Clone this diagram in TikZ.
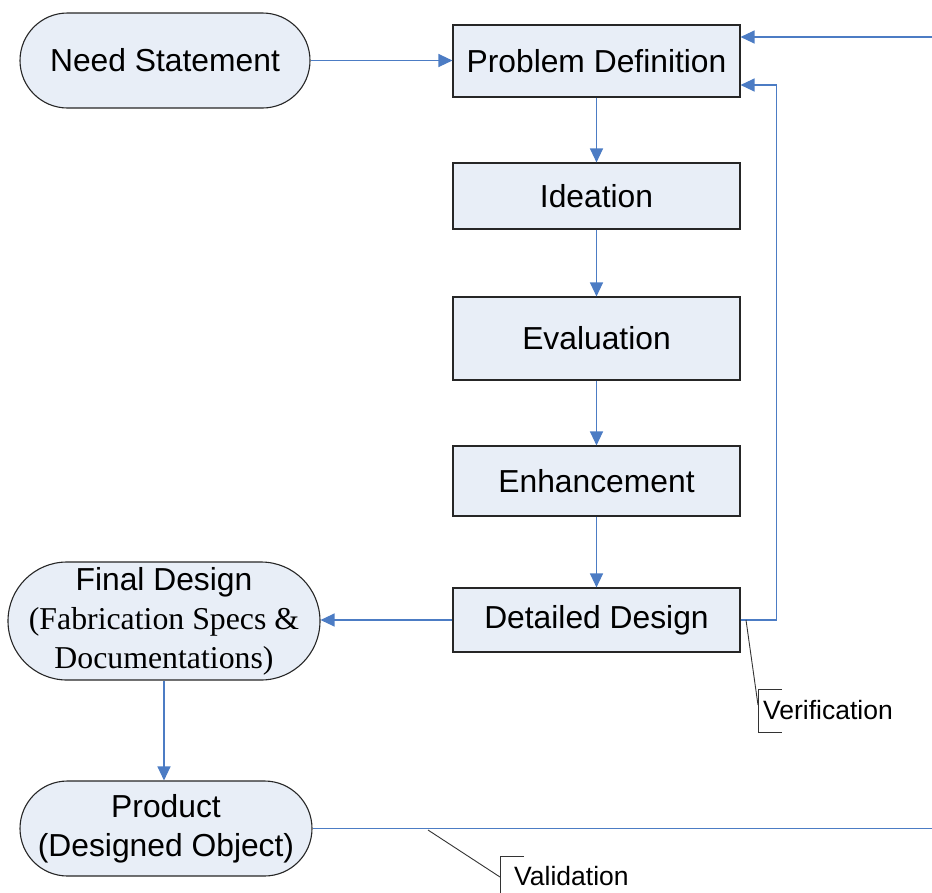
\documentclass[tikz,border=0pt]{standalone}
\usepackage{fontspec}
\setmainfont{Liberation Sans}
\newfontfamily\serifrm{Liberation Serif}
\usetikzlibrary{arrows.meta,calc}
\definecolor{boxfill}{RGB}{232,238,247}
\definecolor{flowblue}{RGB}{76,124,196}
\begin{document}
\begin{tikzpicture}[x=1pt,y=-1pt,
  base/.style={draw=black!85, line width=1.1pt, fill=boxfill, inner sep=0pt, align=center,
    font=\fontsize{31.8}{39}\selectfont},
  stepbox/.style={base, rectangle, minimum width=287pt},
  stadium/.style={base, rectangle},
  arr/.style={draw=flowblue, line width=1.2pt, -{Triangle[length=14pt,width=13pt]}},
  blueline/.style={draw=flowblue, line width=1.2pt},
  callout/.style={draw=black!80, line width=0.9pt},
  lbl/.style={font=\fontsize{26.5}{30}\selectfont, inner sep=0pt, anchor=west}]
\useasboundingbox (0,0) rectangle (932,892);

\node[stadium, minimum width=290pt, minimum height=95pt, rounded corners=47.5pt] (need) at (165,60.5) {Need Statement};
\node[stepbox, minimum height=72pt] (pd) at (596.5,61) {Problem Definition};
\node[stepbox, minimum height=66pt] (idea) at (596.5,196) {Ideation};
\node[stepbox, minimum height=83pt] (eval) at (596.5,338.5) {Evaluation};
\node[stepbox, minimum height=70pt] (enh) at (596.5,481) {Enhancement};
\node[stepbox, minimum height=64pt] (dd) at (596.5,620) {Detailed Design};
\node[stadium, minimum width=312pt, minimum height=118pt, rounded corners=59pt] (final) at (164,621)
  {Final Design\\{\serifrm (Fabrication Specs \&}\\{\serifrm Documentations)}};
\node[stadium, minimum width=292pt, minimum height=95pt, rounded corners=47.5pt] (prod) at (166,828.5)
  {Product\\(Designed Object)};

\coordinate (topin) at (932,37);
\coordinate (prodout) at (932,830);
\coordinate (fbin) at ($(pd.east)+(0,24)$);
\coordinate (fbturn) at ($(dd.east)+(36,0)$);

\draw[arr] (need.east) -- (need.east -| pd.west);
\draw[arr] (pd.south) -- (idea.north);
\draw[arr] (idea.south) -- (eval.north);
\draw[arr] (eval.south) -- (enh.north);
\draw[arr] (enh.south) -- (dd.north);
\draw[arr] (dd.west) -- (dd.west -| final.east);
\draw[arr] (final.south) -- (final.south |- prod.north);
\draw[arr] (dd.east) -- (fbturn) |- (fbin);
\draw[arr] (topin) -- (topin -| pd.east);
\draw[blueline] (prod.east) -- (prod.east -| prodout);

% Verification callout
\coordinate (vs) at (746,620);
\coordinate (ve) at (758,705);
\draw[callout] (vs) -- (ve);
\draw[callout] (782,689) -- (758,689) -- (758,732) -- (782,732);
\node[lbl] (verif) at (763,710) {Verification};

% Validation callout
\coordinate (vas) at (428,830);
\coordinate (vae) at (500,877);
\draw[callout] (vas) -- (vae);
\draw[callout] (524,856) -- (500,856) -- (500,900);
\node[lbl] (valid) at (514,876) {Validation};
\end{tikzpicture}
\end{document}
